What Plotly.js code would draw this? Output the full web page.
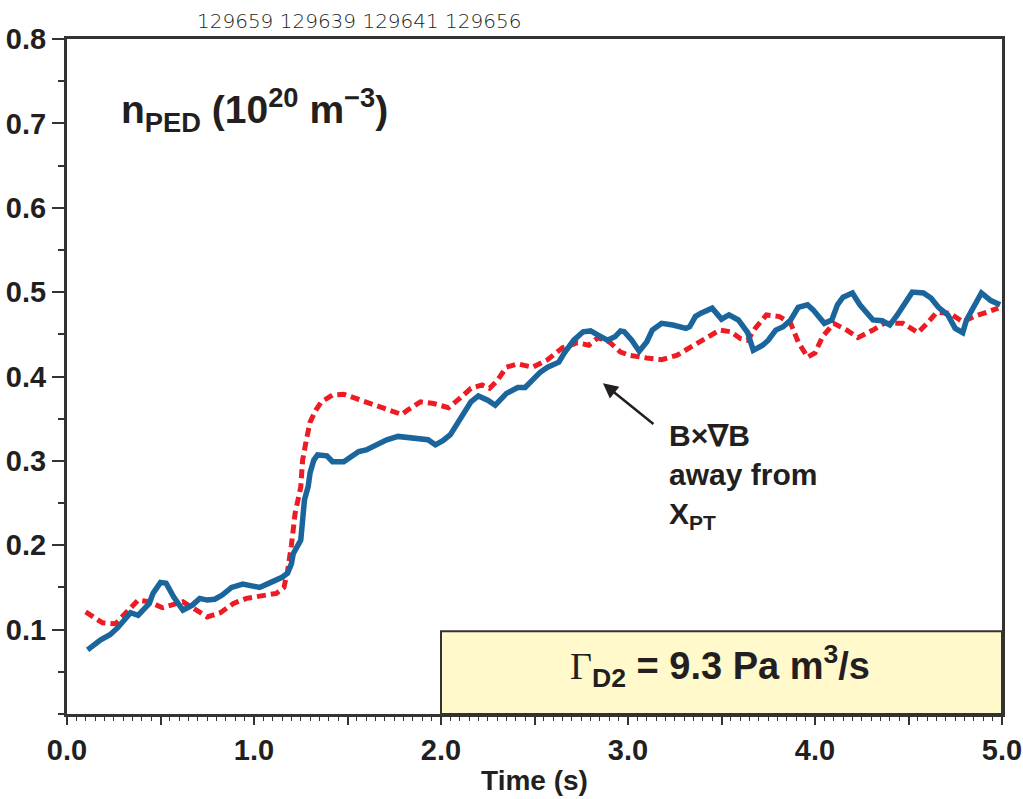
<!DOCTYPE html>
<html>
<head>
<meta charset="utf-8">
<script src="https://cdn.plot.ly/plotly-3.0.1.min.js"></script>
<style>html,body{margin:0;padding:0;background:#fff;}#chart{width:1023px;height:799px;}</style>
</head>
<body>
<div id="chart"></div>
<script>
// Blue solid trace (shot group, B×∇B away from X-point)
const blueTime = [0.11,0.18,0.23,0.27,0.34,0.38,0.44,0.46,0.50,0.53,0.57,0.62,0.67,0.71,0.75,0.79,0.83,0.88,0.94,1.03,1.09,1.15,1.18,1.20,1.21,1.25,1.26,1.27,1.29,1.30,1.32,1.34,1.39,1.42,1.48,1.51,1.56,1.60,1.66,1.71,1.77,1.83,1.93,1.97,2.01,2.05,2.09,2.12,2.16,2.20,2.25,2.29,2.35,2.41,2.45,2.49,2.53,2.57,2.63,2.66,2.71,2.76,2.80,2.84,2.89,2.93,2.96,2.98,3.02,3.06,3.10,3.13,3.18,3.24,3.31,3.33,3.36,3.39,3.45,3.50,3.54,3.59,3.64,3.67,3.72,3.75,3.79,3.83,3.87,3.91,3.96,3.99,4.02,4.05,4.09,4.12,4.15,4.20,4.24,4.28,4.31,4.36,4.40,4.44,4.48,4.52,4.58,4.62,4.66,4.71,4.75,4.79,4.81,4.85,4.89,4.94,4.99];
const blueNped = [0.076,0.088,0.094,0.102,0.120,0.117,0.131,0.143,0.156,0.155,0.139,0.123,0.129,0.137,0.135,0.136,0.141,0.150,0.154,0.150,0.156,0.162,0.167,0.178,0.190,0.206,0.230,0.254,0.270,0.286,0.301,0.307,0.306,0.299,0.299,0.303,0.311,0.313,0.319,0.325,0.329,0.328,0.325,0.319,0.324,0.331,0.345,0.358,0.370,0.377,0.372,0.366,0.380,0.387,0.387,0.396,0.405,0.411,0.417,0.428,0.443,0.453,0.454,0.449,0.443,0.447,0.454,0.453,0.443,0.430,0.441,0.455,0.463,0.461,0.457,0.459,0.471,0.475,0.481,0.468,0.473,0.467,0.452,0.431,0.437,0.443,0.455,0.459,0.467,0.482,0.485,0.479,0.471,0.463,0.467,0.485,0.494,0.499,0.485,0.476,0.467,0.466,0.461,0.473,0.487,0.500,0.499,0.493,0.482,0.473,0.457,0.452,0.467,0.482,0.499,0.490,0.485];

// Red dotted trace
const redTime = [0.10,0.19,0.26,0.33,0.38,0.44,0.51,0.62,0.67,0.75,0.82,0.89,0.96,1.05,1.12,1.16,1.18,1.20,1.22,1.25,1.26,1.28,1.30,1.33,1.36,1.42,1.48,1.57,1.65,1.74,1.79,1.82,1.89,1.96,2.04,2.10,2.16,2.22,2.26,2.30,2.35,2.41,2.49,2.57,2.65,2.73,2.79,2.84,2.90,2.96,3.01,3.10,3.18,3.26,3.34,3.42,3.49,3.55,3.60,3.64,3.68,3.74,3.81,3.87,3.91,3.96,4.00,4.04,4.10,4.17,4.23,4.31,4.37,4.47,4.55,4.60,4.65,4.72,4.79,4.85,4.92,4.98];
const redNped = [0.121,0.108,0.107,0.123,0.135,0.133,0.126,0.133,0.126,0.115,0.120,0.131,0.137,0.140,0.143,0.150,0.170,0.200,0.238,0.269,0.301,0.325,0.346,0.360,0.370,0.378,0.379,0.372,0.366,0.358,0.355,0.360,0.370,0.368,0.363,0.374,0.386,0.390,0.386,0.395,0.411,0.415,0.411,0.420,0.434,0.440,0.437,0.446,0.441,0.429,0.425,0.422,0.420,0.425,0.435,0.446,0.455,0.453,0.445,0.443,0.457,0.473,0.471,0.463,0.441,0.423,0.428,0.447,0.463,0.455,0.446,0.455,0.463,0.463,0.452,0.463,0.476,0.475,0.465,0.471,0.476,0.481];

const xTickVals = [0,0.5,1,1.5,2,2.5,3,3.5,4,4.5,5];
const xTickText = ['0.0','','1.0','','2.0','','3.0','','4.0','','5.0'];
const yTickVals = [0.1,0.2,0.3,0.4,0.5,0.6,0.7,0.8];
const yTickText = ['0.1','0.2','0.3','0.4','0.5','0.6','0.7','0.8'];
const shotLabel = '129659 129639 129641 129656';

const FONT = '"Liberation Sans Narrow", "Liberation Sans", Arial, sans-serif';
const INK = '#231f20';

const traces = [
  {x: redTime, y: redNped, mode: 'lines', line: {color: '#ed1c24', width: 5, dash: '9px,5px'}, hoverinfo: 'skip', showlegend: false},
  {x: blueTime, y: blueNped, mode: 'lines', line: {color: '#1a669c', width: 5.5}, hoverinfo: 'skip', showlegend: false}
];

const layout = {
  width: 1023, height: 799,
  margin: {l: 67, r: 21, t: 39, b: 85},
  paper_bgcolor: '#fff', plot_bgcolor: '#fff',
  showlegend: false,
  xaxis: {
    range: [0, 5], showgrid: false, zeroline: false,
    showline: true, linecolor: '#333', linewidth: 3, mirror: true,
    ticks: 'outside', ticklen: 8, tickwidth: 2, tickcolor: '#333',
    tickmode: 'array', tickvals: xTickVals, ticktext: xTickText,
    minor: {dtick: 0.05, ticks: 'outside', ticklen: 4, tickwidth: 1, tickcolor: '#333', showgrid: false},
    tickfont: {family: FONT, size: 29, color: INK, weight: 'bold'},
    title: {text: 'Time (s)', font: {family: FONT, size: 28, color: INK, weight: 'bold'}, standoff: 6}
  },
  yaxis: {
    range: [0, 0.8], showgrid: false, zeroline: false,
    showline: true, linecolor: '#333', linewidth: 3, mirror: true,
    ticks: 'outside', ticklen: 12, tickwidth: 2, tickcolor: '#333',
    tickmode: 'array', tickvals: yTickVals, ticktext: yTickText,
    minor: {dtick: 0.05, ticks: 'outside', ticklen: 6, tickwidth: 2, tickcolor: '#333', showgrid: false},
    tickfont: {family: FONT, size: 29, color: INK, weight: 'bold'}
  },
  shapes: [
    {type: 'rect', xref: 'x', yref: 'y', x0: 2, x1: 5, y0: 0, y1: 0.098,
     fillcolor: '#fff9cc', line: {color: '#333', width: 2}, layer: 'below'}
  ],
  annotations: [
    {xref: 'paper', yref: 'paper', x: 0.137, y: 1.0, xanchor: 'left', yanchor: 'bottom', yshift: 4,
     text: shotLabel, showarrow: false,
     font: {family: '"DejaVu Sans", sans-serif', size: 20, color: INK, weight: 200}},
    {xref: 'x', yref: 'y', x: 0.28, y: 0.716, xanchor: 'left', yanchor: 'middle',
     text: 'n<sub>PED</sub> (10<sup>20</sup> m<sup>\u22123</sup>)', showarrow: false,
     font: {family: FONT, size: 39, color: INK, weight: 'bold'}},
    {xref: 'x', yref: 'y', x: 2.866, y: 0.392, ax: 52, ay: 42,
     text: '', showarrow: true, arrowhead: 2, arrowsize: 1.2, arrowwidth: 2.5, arrowcolor: INK},
    {xref: 'x', yref: 'y', x: 3.21, y: 0.352, xanchor: 'left', yanchor: 'top', align: 'left',
     text: 'B\u00d7\u2207B<br>away from<br>X<sub>PT</sub>', showarrow: false,
     font: {family: FONT, size: 30, color: INK, weight: 'bold'}},
    {xref: 'x', yref: 'y', x: 3.49, y: 0.057, xanchor: 'center', yanchor: 'middle',
     text: '<span style="font-family:\'Liberation Serif\',serif;font-weight:normal">\u0393</span><sub>D2</sub> = 9.3 Pa m<sup>3</sup>/s', showarrow: false,
     font: {family: FONT, size: 38, color: INK, weight: 'bold'}}
  ]
};

Plotly.newPlot('chart', traces, layout, {displayModeBar: false, staticPlot: true});
</script>
</body>
</html>
